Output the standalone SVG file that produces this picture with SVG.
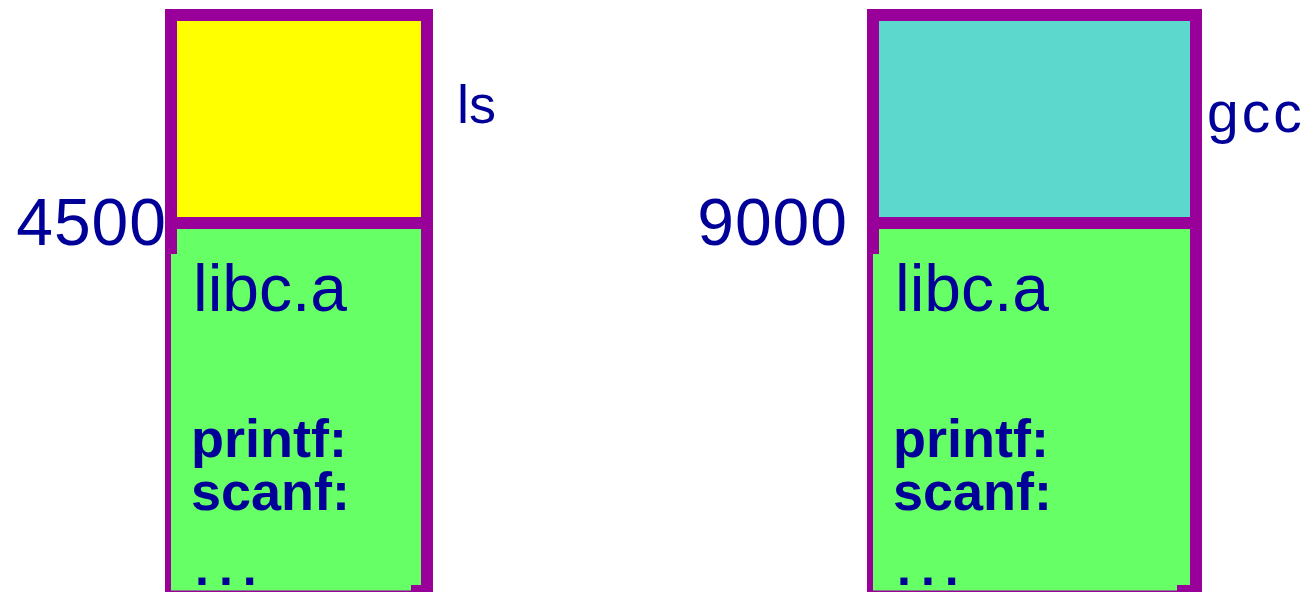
<svg xmlns="http://www.w3.org/2000/svg" width="1308" height="593" viewBox="0 0 1308 593">
  <style>
    .frame { fill: #990099; }
    .lib { fill: #66FF66; }
    .t { font-family: "Comic Sans MS", "Liberation Sans", sans-serif; fill: #000099; }
    .big { font-size: 66px; }
    .name { font-size: 54px; }
    .wide { font-size: 57px; letter-spacing: 3px; }
    .sym { font-size: 54px; font-weight: bold; }
    .dots { font-size: 50px; font-weight: bold; letter-spacing: 10px; }
  </style>

  <!-- ls process image: program text on top, libc.a linked in below -->
  <g id="image-ls">
    <rect class="frame" x="165" y="9" width="268" height="583"/>
    <rect x="177" y="21" width="244" height="196" fill="#FFFF00"/>
    <path class="lib" d="M177 229 H421 V585 H411 V590.5 H171 V254 H177 Z"/>
    <text class="t name" x="457" y="123">ls</text>
    <text class="t big" x="167" y="245" text-anchor="end" letter-spacing="1">4500</text>
    <text class="t big" x="193" y="311">libc.a</text>
    <text class="t sym" x="191" y="457">printf:</text>
    <text class="t sym" x="191" y="510">scanf:</text>
    <text class="t dots" x="195" y="585">...</text>
  </g>

  <!-- gcc process image: same library copied at a different address -->
  <g id="image-gcc">
    <rect class="frame" x="867" y="9" width="335" height="583"/>
    <rect x="879" y="21" width="311" height="196" fill="#5CD8CC"/>
    <path class="lib" d="M879 229 H1190 V585 H1177 V590.5 H873 V254 H879 Z"/>
    <text class="t wide" x="1207" y="132">gcc</text>
    <text class="t big" x="848" y="245" text-anchor="end" letter-spacing="1">9000</text>
    <text class="t big" x="895" y="311">libc.a</text>
    <text class="t sym" x="893" y="457">printf:</text>
    <text class="t sym" x="893" y="510">scanf:</text>
    <text class="t dots" x="897" y="585">...</text>
  </g>

  <g id="connectors"/>
</svg>
